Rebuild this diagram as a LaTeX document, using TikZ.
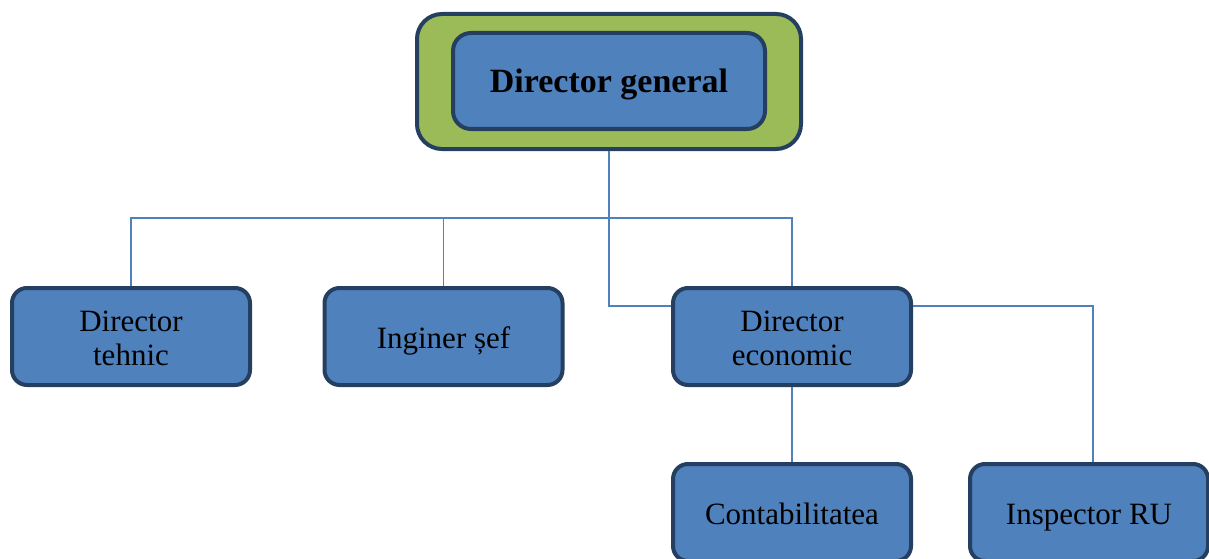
\documentclass[tikz,border=0pt]{standalone}
\usepackage{fontspec}
\setmainfont{Liberation Serif}
% one line set with its baseline a given distance below the node centre
\newcommand{\oneline}[2]{\raisebox{-#1}[0pt][0pt]{#2}}
% two lines, the first baseline a given distance above the node centre
\newcommand{\twolines}[3]{\raisebox{#1}[0pt][0pt]{\begin{tabular}[t]{@{}c@{}}#2\\#3\end{tabular}}}
\begin{document}
\begin{tikzpicture}[x=1pt,y=-1pt,
  box/.style={draw=boxedge, line width=4pt, fill=boxfill, rounded corners=15pt,
    minimum width=238pt, minimum height=97pt, inner sep=0pt,
    font=\fontsize{31}{34}\selectfont, text=black},
  link/.style={draw=linkblue, line width=1.5pt}]
\definecolor{boxfill}{HTML}{4F81BD}
\definecolor{boxedge}{HTML}{243F60}
\definecolor{frame}{HTML}{9BBB59}
\definecolor{linkblue}{HTML}{4F81BD}
\useasboundingbox (0,0) rectangle (1209,559);

% top: director general inside a green frame
\node[draw=boxedge, line width=4pt, fill=frame, rounded corners=25pt,
  minimum width=384pt, minimum height=135pt] (outer) at (609,81.5) {};
\node[box, rounded corners=18pt, minimum width=312pt, minimum height=96pt,
  font=\bfseries\fontsize{34}{40}\selectfont] (dg) at (609,81) {\oneline{12pt}{Director general}};

% second level
\node[box] (dt) at (131,336.5) {\twolines{5.5pt}{Director}{tehnic}};
\node[box] (is) at (443.5,336.5) {\oneline{11.5pt}{Inginer șef}};
\node[box] (de) at (792,336.5) {\twolines{5.5pt}{Director}{economic}};

% third level
\node[box] (co) at (792,512.5) {\oneline{11.5pt}{Contabilitatea}};
\node[box] (ir) at (1089,512.5) {\oneline{11.5pt}{Inspector RU}};

% connectors
\coordinate (bus) at (0,218);
\draw[link] (dt.north) -- (dt.north |- bus) -- (de.north |- bus) -- (de.north);
\draw[link] (is.north) -- (is.north |- bus);
\draw[link] (outer.south) |- ([yshift=30.5pt]de.west);
\draw[link] ([yshift=30.5pt]de.east) -| ([xshift=4pt]ir.north);
\draw[link] (de.south) -- (co.north);
\end{tikzpicture}
\end{document}
